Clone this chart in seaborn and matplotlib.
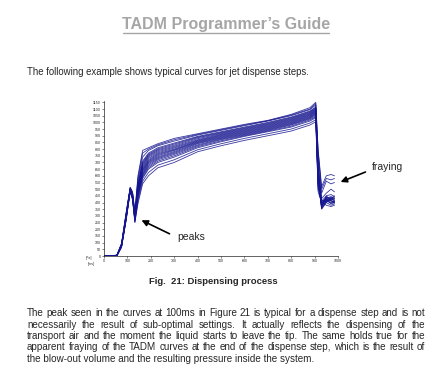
import matplotlib
matplotlib.use("Agg")
import matplotlib.pyplot as plt
from matplotlib.lines import Line2D
import seaborn as sns
import pandas as pd

# time axis [ms] shared by every TADM curve
time_ms = [0, 55, 75, 95, 112, 122, 132, 145, 165, 190, 230, 300, 400, 500,
           600, 700, 800, 880, 905, 915, 930, 950, 970, 985]

# pressure curves, top of the band to bottom
curve_01 = [0, 6, 95, 330, 515, 480, 330, 600, 790, 810, 840, 880, 915, 950, 985, 1015, 1060, 1110, 1150, 800, 520, 600, 610, 600]
curve_02 = [0, 6, 92, 325, 512, 475, 325, 580, 770, 800, 832, 870, 910, 945, 980, 1012, 1055, 1100, 1140, 780, 500, 580, 570, 580]
curve_03 = [0, 5, 90, 320, 510, 470, 320, 560, 740, 790, 825, 860, 905, 940, 975, 1010, 1050, 1095, 1130, 760, 470, 560, 540, 550]
curve_04 = [0, 5, 88, 315, 505, 465, 310, 540, 710, 770, 810, 845, 895, 930, 965, 1000, 1040, 1085, 1115, 700, 430, 470, 500, 480]
curve_05 = [0, 5, 86, 312, 505, 462, 305, 530, 700, 762, 802, 838, 890, 925, 960, 995, 1035, 1080, 1110, 680, 410, 450, 460, 445]
curve_06 = [0, 4, 85, 310, 505, 460, 300, 520, 690, 755, 795, 830, 885, 920, 955, 990, 1030, 1075, 1105, 660, 400, 440, 430, 450]
curve_07 = [0, 4, 84, 308, 502, 458, 298, 512, 680, 748, 788, 822, 878, 915, 950, 985, 1025, 1070, 1100, 640, 390, 430, 445, 430]
curve_08 = [0, 4, 82, 305, 500, 455, 295, 505, 670, 740, 780, 815, 870, 910, 945, 980, 1020, 1065, 1095, 620, 380, 420, 440, 420]
curve_09 = [0, 4, 81, 302, 500, 452, 292, 498, 660, 730, 772, 808, 865, 905, 940, 975, 1015, 1060, 1090, 610, 370, 415, 425, 440]
curve_10 = [0, 3, 80, 300, 500, 450, 290, 490, 650, 720, 765, 800, 860, 900, 935, 970, 1010, 1055, 1085, 600, 360, 410, 420, 430]
curve_11 = [0, 3, 79, 298, 497, 448, 288, 485, 642, 712, 758, 795, 855, 895, 930, 965, 1005, 1050, 1080, 590, 355, 405, 435, 415]
curve_12 = [0, 3, 78, 295, 495, 445, 285, 480, 635, 705, 750, 790, 850, 890, 925, 960, 1000, 1045, 1075, 580, 350, 400, 430, 410]
curve_13 = [0, 3, 76, 292, 495, 442, 282, 472, 625, 698, 742, 782, 845, 885, 920, 955, 995, 1040, 1070, 570, 360, 440, 410, 405]
curve_14 = [0, 2, 75, 290, 495, 440, 280, 465, 615, 690, 735, 775, 840, 880, 915, 950, 990, 1035, 1065, 560, 370, 450, 420, 400]
curve_15 = [0, 2, 74, 288, 492, 438, 275, 458, 608, 680, 728, 768, 832, 875, 910, 945, 985, 1030, 1058, 550, 380, 425, 415, 395]
curve_16 = [0, 2, 72, 285, 490, 435, 270, 450, 600, 670, 720, 760, 825, 870, 905, 940, 980, 1025, 1050, 540, 390, 430, 400, 410]
curve_17 = [0, 2, 71, 282, 490, 432, 265, 440, 590, 660, 710, 750, 818, 862, 900, 935, 972, 1018, 1042, 530, 400, 415, 395, 405]
curve_18 = [0, 1, 70, 280, 490, 430, 260, 430, 580, 650, 700, 740, 810, 855, 895, 930, 965, 1010, 1035, 520, 410, 420, 390, 400]
curve_19 = [0, 1, 68, 275, 485, 425, 255, 410, 560, 625, 680, 720, 795, 840, 880, 915, 950, 995, 1020, 500, 420, 400, 380, 390]
curve_20 = [0, 0, 65, 270, 480, 420, 250, 390, 540, 600, 660, 700, 780, 825, 865, 900, 935, 980, 1005, 480, 400, 380, 370, 380]

curves = [curve_01, curve_02, curve_03, curve_04, curve_05, curve_06, curve_07,
          curve_08, curve_09, curve_10, curve_11, curve_12, curve_13, curve_14,
          curve_15, curve_16, curve_17, curve_18, curve_19, curve_20]

y_ticks = list(range(0, 1151, 50))
x_ticks = list(range(0, 1001, 100))

title = "TADM Programmer\u2019s Guide"
intro = "The following example shows typical curves for jet dispense steps."
caption = "Fig.  21: Dispensing process"
paragraph = [
    "The peak seen in the curves at 100ms in Figure 21 is typical for a dispense step and is not",
    "necessarily the result of sub-optimal settings. It actually reflects the dispensing of the",
    "transport air and the moment the liquid starts to leave the tip. The same holds true for the",
    "apparent fraying of the TADM curves at the end of the dispense step, which is the result of",
    "the blow-out volume and the resulting pressure inside the system.",
]

rows = []
for i, c in enumerate(curves):
    for t, p in zip(time_ms, c):
        rows.append({"curve": i, "time": t, "pressure": p})
df = pd.DataFrame(rows)

sns.set_style("ticks")
plt.rcParams["font.family"] = ["Liberation Sans", "DejaVu Sans"]

W, H = 448, 375
fig = plt.figure(figsize=(W / 100, H / 100), dpi=100)


def fx(px):
    return px / W


def fy(py):
    return 1 - py / H


ax = fig.add_axes([fx(104), fy(256), fx(338) - fx(104), fy(101) - fy(256)])
sns.lineplot(data=df, x="time", y="pressure", units="curve", estimator=None,
             color="#15158f", lw=0.6, alpha=0.85, legend=False, ax=ax)
ax.set_xlim(0, 1000)
ax.set_ylim(0, 1160)
ax.set_xticks(x_ticks)
ax.set_yticks(y_ticks)
ax.tick_params(labelsize=2.6, length=1.5, width=0.4, pad=1)
ax.set_xlabel("")
ax.set_ylabel("")
for s in ["top", "right"]:
    ax.spines[s].set_visible(False)
for s in ["left", "bottom"]:
    ax.spines[s].set_linewidth(0.5)

fig.text(fx(86), fy(258), "[Pa]", fontsize=2.6, va="center")
fig.text(fx(88), fy(264), "[ms]", fontsize=2.6, va="center")

# arrows
arrow = dict(arrowstyle="-|>", color="black", lw=1.2, mutation_scale=9)
fig.text(fx(372), fy(167), "fraying", fontsize=7.5, va="center")
ax.annotate("", xy=(fx(338), fy(183)), xycoords="figure fraction",
            xytext=(fx(368), fy(171)), textcoords="figure fraction",
            arrowprops=arrow)
fig.text(fx(177), fy(237), "peaks", fontsize=7.5, va="center")
ax.annotate("", xy=(fx(139), fy(219)), xycoords="figure fraction",
            xytext=(fx(172), fy(235)), textcoords="figure fraction",
            arrowprops=arrow)

# page text
fig.text(fx(226), fy(25), title, fontsize=11.5, fontweight="bold",
         color="#a6a6a6", ha="center", va="center")
fig.add_artist(Line2D([fx(123), fx(329)], [fy(33), fy(33)], color="#a6a6a6", lw=1))
fig.text(fx(27), fy(72), intro, fontsize=6.95, va="center")
fig.text(fx(213), fy(281), caption, fontsize=6.8, fontweight="bold",
         ha="center", va="center")

renderer = fig.canvas.get_renderer()
line_y = [313, 325, 336, 347, 359]
left, right = 27, 425
for k, (ln, yy) in enumerate(zip(paragraph, line_y)):
    if k == len(paragraph) - 1:
        fig.text(fx(left), fy(yy), ln, fontsize=7.1, va="center")
        continue
    words = ln.split(" ")
    objs = [fig.text(0, fy(yy), w, fontsize=7.1, va="center") for w in words]
    widths = [o.get_window_extent(renderer).width for o in objs]
    gap = (right - left - sum(widths)) / (len(words) - 1)
    x = left
    for o, w in zip(objs, widths):
        o.set_x(fx(x))
        x += w + gap

fig.savefig("out.png", dpi=100)
